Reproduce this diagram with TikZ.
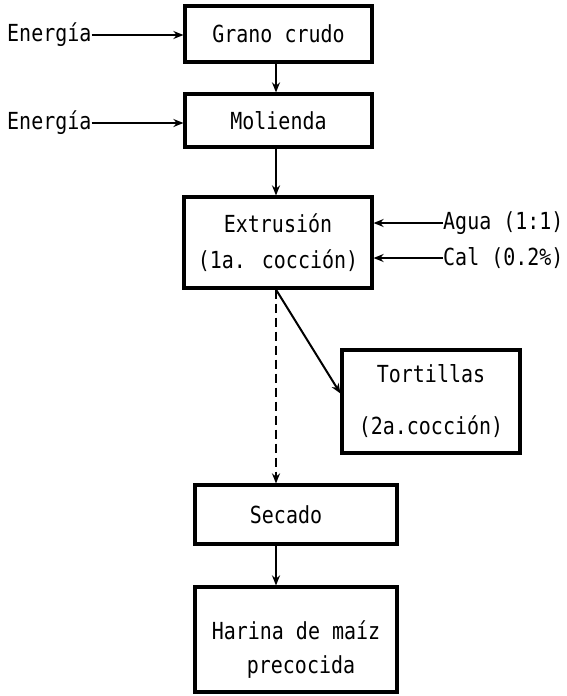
\documentclass[tikz,border=0pt]{standalone}
\usepackage{fontspec}
\usetikzlibrary{arrows.meta,calc}
\newfontfamily\monofnt[FakeStretch=0.85]{DejaVu Sans Mono}
\tikzset{
  box/.style={draw, line width=3.2pt, inner sep=0pt, align=center, font=\monofnt\fontsize{23.5}{27}\selectfont},
  lbl/.style={inner sep=0pt, font=\monofnt\fontsize{23.5}{27}\selectfont},
  arr/.style={line width=2pt, -{Stealth[length=10pt,width=8pt]}},
  dsh/.style={line width=2pt, dash pattern=on 9pt off 5pt, -{Stealth[length=10pt,width=8pt]}}
}
\begin{document}
\begin{tikzpicture}[x=1pt,y=-1pt]
\useasboundingbox (0,0) rectangle (567,696);
\coordinate (ax) at (276,0);
\node[box, minimum width=187pt, minimum height=56pt] (g) at (278.5,34) {Grano crudo};
\node[box, minimum width=187pt, minimum height=53pt] (m) at (278.5,120.5) {Molienda};
\node[box, minimum width=188pt, minimum height=91pt] (e) at (278,242.5) {Extrusión\\[9pt](1a. cocción)};
\node[box, minimum width=178pt, minimum height=103pt] (t) at (431,401.5) {Tortillas\\[25pt](2a.cocción)};
\node[box, minimum width=202pt, minimum height=59pt] (s) at (296,514.5) {\hspace*{-20pt}Secado};
\node[box, minimum width=202pt, minimum height=105pt] (h) at (296,639.5) {\rule{0pt}{38pt}Harina de maíz\\[7pt]\hspace*{10pt}precocida};
\node[lbl, anchor=west] (e1) at (7,35) {Energía};
\node[lbl, anchor=west] (e2) at (7,123) {Energía};
\node[lbl, anchor=west] (ag) at (443,223) {Agua (1:1)};
\node[lbl, anchor=west] (ca) at (443,258) {Cal (0.2\%)};
\draw[arr] (e1.east) -- (e1.east -| g.west);
\draw[arr] (e2.east) -- (e2.east -| m.west);
\draw[arr] (ag.west) -- (ag.west -| e.east);
\draw[arr] (ca.west) -- (ca.west -| e.east);
\draw[arr] (g.south -| ax) -- (m.north -| ax);
\draw[arr] (m.south -| ax) -- (e.north -| ax);
\draw[dsh] (e.south -| ax) -- (s.north -| ax);
\draw[arr] (e.south -| ax) -- ($(t.west)+(0,-8)$);
\draw[arr] (s.south -| ax) -- (h.north -| ax);
\end{tikzpicture}
\end{document}
